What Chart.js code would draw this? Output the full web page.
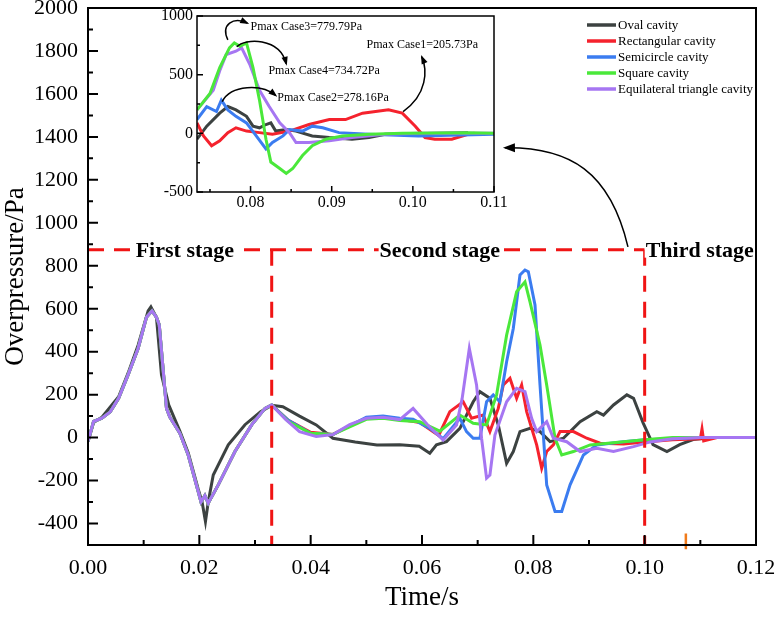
<!DOCTYPE html>
<html><head><meta charset="utf-8">
<script src="https://cdn.jsdelivr.net/npm/chart.js@4.4.1/dist/chart.umd.min.js"></script>
<style>
html,body{margin:0;padding:0;background:#fff;}
#wrap{position:relative;width:776px;height:618px;overflow:hidden;}
#main{position:absolute;left:0;top:0;}
#inset{position:absolute;left:150px;top:0;}
</style></head><body>
<div id="wrap"><canvas id="main" width="776" height="618"></canvas><canvas id="inset" width="360" height="215"></canvas></div>
<script>
const SERIF = "'Liberation Serif','Times New Roman',serif";
const COL = {oval:'#3c4241', rect:'#f5222d', semi:'#3b7cf0', square:'#4ae83a', tri:'#a676f2'};
const names = ['Oval cavity','Rectangular cavity','Semicircle cavity','Square cavity','Equilateral triangle cavity'];

// main axis ticks
const mainXTicks = [0, 0.02, 0.04, 0.06, 0.08, 0.10, 0.12];
const mainYTicks = [-400,-200,0,200,400,600,800,1000,1200,1400,1600,1800,2000];
const insetXTicks = [0.08, 0.09, 0.10, 0.11];
const insetXMinor = [0.075, 0.085, 0.095, 0.105];
const insetYTicks = [-500, 0, 500, 1000];
const insetYMinor = [-250, 250, 750];

// first stage: rect/semi/square/triangle curves lie on top of each other
const earlyT = [0,0.001,0.0025,0.004,0.0055,0.0072,0.009,0.0105,0.0115,0.0123,0.0128,0.0141,0.0147,0.0165,0.018,0.0198,0.0203,0.021,0.0216,0.0234,0.0264,0.0294,0.0318,0.033];
const earlyV = [-18,75,90,120,183,292,415,560,590,560,525,136,95,20,-81,-251,-300,-270,-305,-220,-65,59,136,152];

const ovalT = [0,0.001,0.0025,0.0055,0.0072,0.009,0.0108,0.0113,0.0123,0.0132,0.0145,0.0165,0.018,0.0198,0.0205,0.0211,0.0216,0.0225,0.0252,0.0282,0.031,0.033,0.035,0.038,0.041,0.044,0.048,0.0519,0.056,0.0595,0.0614,0.0626,0.0644,0.0668,0.0692,0.0704,0.0722,0.0737,0.0752,0.0764,0.0776,0.0794,0.0812,0.083,0.0854,0.0884,0.0914,0.0926,0.0944,0.0968,0.098,0.0997,0.1015,0.104,0.1063,0.1087,0.112,0.12];
const ovalV = [-18,70,95,190,300,430,590,609,560,292,152,30,-70,-240,-300,-391,-300,-174,-34,60,120,150,144,100,59,-3,-20,-34,-33,-40,-73,-34,-19,43,167,214,183,59,-120,-65,28,43,28,-19,-3,74,121,105,152,199,183,70,-33,-65,-33,-9,0,0];

const rectLateT = [0.036,0.04,0.044,0.047,0.05,0.053,0.056,0.0596,0.063,0.065,0.0674,0.0689,0.071,0.0722,0.0737,0.0746,0.0758,0.077,0.0779,0.0788,0.0806,0.0815,0.0824,0.0836,0.0848,0.0872,0.0896,0.092,0.0962,0.1,0.105,0.11,0.1103,0.1106,0.113,0.12];
const rectLateV = [80,25,15,55,90,95,85,70,10,121,167,90,105,28,136,245,276,183,245,121,-34,-143,-65,-34,28,28,-3,-26,-30,-20,-10,-5,40,-15,0,0];

const semiLateT = [0.036,0.04,0.044,0.047,0.05,0.053,0.056,0.0584,0.0614,0.0638,0.0668,0.068,0.0692,0.0704,0.0716,0.0728,0.074,0.0752,0.0764,0.0776,0.0785,0.0791,0.0803,0.0812,0.0824,0.0839,0.0851,0.0866,0.089,0.0914,0.0962,0.1,0.105,0.11,0.12];
const semiLateV = [80,20,14,55,95,100,90,85,43,-5,90,28,-3,-3,167,199,167,353,508,757,780,772,617,245,-220,-344,-344,-220,-81,-34,-19,-10,-5,0,0];

const squareLateT = [0.036,0.04,0.044,0.047,0.05,0.053,0.056,0.0596,0.0632,0.0668,0.0692,0.0716,0.0734,0.0752,0.077,0.0785,0.0794,0.0812,0.0824,0.0839,0.0851,0.0872,0.0902,0.0962,0.1,0.105,0.12];
const squareLateV = [75,20,15,50,85,90,80,74,30,105,67,59,199,477,679,725,632,431,245,-3,-81,-65,-34,-19,-10,0,0];

const triLateT = [0.0355,0.038,0.041,0.044,0.047,0.05,0.053,0.056,0.0584,0.061,0.0638,0.0662,0.0672,0.0685,0.0698,0.0707,0.0716,0.0722,0.0731,0.0752,0.077,0.0785,0.0797,0.0806,0.0824,0.0836,0.086,0.0884,0.0914,0.0944,0.098,0.101,0.105,0.11,0.12];
const triLateV = [85,28,5,14,60,90,95,84,136,60,-11,59,180,415,245,-3,-189,-174,12,167,229,214,90,28,74,-3,-19,-65,-50,-65,-42,-20,-5,0,0];

// stage guide lines
const stageLevel = 875;
const stageX1 = 0.033, stageX3 = 0.1;
const stageNames = ['First stage','Second stage','Third stage'];
const stageTextX = [0.0174, 0.0632, 0.1099];
const markT = [0.1074, 0.1074], markV = [-446, -520];

// inset data
const insetOvalT = [0.0734,0.0746,0.0762,0.0772,0.0782,0.0795,0.0803,0.0811,0.0819,0.0825,0.0831,0.0844,0.0856,0.0876,0.0897,0.0925,0.0946,0.0966,0.1068];
const insetOvalV = [-50,61,172,228,200,145,61,47,75,89,19,33,19,-22,-36,-50,-36,-8,5];
const insetRectT = [0.0734,0.0742,0.0752,0.0762,0.0772,0.0782,0.0795,0.0811,0.0827,0.0848,0.0872,0.0897,0.0917,0.0938,0.0954,0.097,0.0987,0.1003,0.1015,0.1027,0.1048,0.1068,0.1076];
const insetRectV = [89,-22,-106,-64,6,47,19,6,-8,19,75,117,117,172,186,200,172,61,-36,-50,-50,-8,0];
const insetSemiT = [0.0734,0.0746,0.0758,0.0764,0.0772,0.0782,0.0795,0.0807,0.0819,0.0827,0.084,0.0848,0.0864,0.0876,0.0889,0.0909,0.0946,0.1007,0.11];
const insetSemiV = [117,228,186,283,200,145,89,-22,-133,-78,-22,33,19,61,47,6,-8,-22,-8];
const insetSquareT = [0.0734,0.075,0.0762,0.0774,0.078,0.0787,0.0795,0.0803,0.0811,0.0819,0.0825,0.0836,0.0844,0.0852,0.0864,0.0876,0.0893,0.0913,0.0946,0.0987,0.1068,0.11];
const insetSquareV = [200,339,561,728,770,742,770,561,283,-50,-245,-300,-342,-300,-189,-106,-50,-22,-8,0,5,0];
const insetTriT = [0.0734,0.0754,0.0762,0.077,0.0782,0.0789,0.0799,0.0811,0.0823,0.0836,0.0848,0.0856,0.0872,0.0897,0.0925,0.0966,0.1007,0.11];
const insetTriV = [200,367,533,672,700,728,589,367,228,89,6,-78,-78,-64,-36,-8,0,0];

// inset notes (data coords of text start, arrows as bezier pts)
const noteText = ['Pmax Case3=779.79Pa','Pmax Case4=734.72Pa','Pmax Case2=278.16Pa','Pmax Case1=205.73Pa'];
const noteX = [0.0800, 0.0822, 0.0833, 0.0943];
const noteY = [906, 534, 305, 754];
const noteArrows = [
  [[0.0772,796],[0.0763,930],[0.0779,995],[0.0796,940]],
  [[0.0783,737],[0.0793,813],[0.0836,820],[0.0844,593]],
  [[0.0765,271],[0.0776,415],[0.0814,423],[0.0831,322]],
  [[0.0988,186],[0.1018,330],[0.1018,542],[0.1011,652]]
];
const bigArrow = [[0.0970,888],[0.0938,1237],[0.0866,1353],[0.0749,1349]];

function series(label, ts, vs, color, order){
  return {label, data: ts.map((t,i)=>({x:t,y:vs[i]})), borderColor:color, backgroundColor:color,
    borderWidth:3, pointRadius:0, tension:0, fill:false, order};
}
function guide(ts, vs){
  return {label:'', data: ts.map((t,i)=>({x:t,y:vs[i]})), borderColor:'#f01414', borderWidth:3,
    borderDash:[16,10], pointRadius:0, fill:false, order:0};
}
function mids(a){ return a.slice(0,-1).map((v,i)=>(v+a[i+1])/2); }

function curveArrow(ctx, p, head){
  ctx.beginPath(); ctx.moveTo(p[0][0],p[0][1]);
  ctx.bezierCurveTo(p[1][0],p[1][1],p[2][0],p[2][1],p[3][0],p[3][1]); ctx.stroke();
  const [ex,ey]=p[3], [cx,cy]=p[2]; const a=Math.atan2(ey-cy, ex-cx);
  const L=head, W=head*0.45;
  ctx.beginPath(); ctx.moveTo(ex+2*Math.cos(a),ey+2*Math.sin(a));
  ctx.lineTo(ex-L*Math.cos(a)+W*Math.sin(a), ey-L*Math.sin(a)-W*Math.cos(a));
  ctx.lineTo(ex-L*Math.cos(a)-W*Math.sin(a), ey-L*Math.sin(a)+W*Math.cos(a));
  ctx.closePath(); ctx.fill();
}

const frameTicks = {
  id:'frameTicks',
  beforeDraw(chart, args, o){
    if(!o.fill) return;
    const {ctx, chartArea:a} = chart;
    ctx.save(); ctx.fillStyle='#fff'; ctx.fillRect(a.left,a.top,a.right-a.left,a.bottom-a.top); ctx.restore();
  },
  afterDraw(chart, args, o){
    const {ctx, chartArea:a, scales:{x,y}} = chart;
    ctx.save(); ctx.strokeStyle='#000'; ctx.lineWidth=o.lw;
    ctx.strokeRect(a.left,a.top,a.right-a.left,a.bottom-a.top);
    ctx.beginPath();
    const tx=(v,len)=>{const p=x.getPixelForValue(v); ctx.moveTo(p,a.bottom); ctx.lineTo(p,a.bottom-len);};
    const ty=(v,len)=>{const p=y.getPixelForValue(v); ctx.moveTo(a.left,p); ctx.lineTo(a.left+len,p);};
    o.xMajor.forEach(v=>tx(v,o.major)); o.xMinor.forEach(v=>tx(v,o.minor));
    o.yMajor.forEach(v=>ty(v,o.major)); o.yMinor.forEach(v=>ty(v,o.minor));
    ctx.stroke(); ctx.restore();
  }
};

const mainNotes = {
  id:'mainNotes',
  afterDatasetsDraw(chart){
    const {ctx, scales:{x,y}} = chart;
    ctx.save();
    // stage labels
    ctx.font = 'bold 22px '+SERIF; ctx.textAlign='center'; ctx.textBaseline='alphabetic';
    const py = y.getPixelForValue(stageLevel);
    stageNames.forEach((s,i)=>{
      const px = x.getPixelForValue(stageTextX[i]); const w = ctx.measureText(s).width;
      ctx.fillStyle='#fff'; ctx.fillRect(px-w/2-1, py-8, w+2, 16);
      ctx.fillStyle='#000'; ctx.fillText(s, px, py+7);
    });
    // arrow to inset
    ctx.strokeStyle='#000'; ctx.fillStyle='#000'; ctx.lineWidth=1.5;
    curveArrow(ctx, bigArrow.map(p=>[x.getPixelForValue(p[0]), y.getPixelForValue(p[1])]), 10);
    // legend
    const rows=[25,41,57,73,89], cols=[COL.oval,COL.rect,COL.semi,COL.square,COL.tri];
    ctx.font='13px '+SERIF; ctx.textAlign='left'; ctx.textBaseline='middle';
    names.forEach((n,i)=>{
      ctx.strokeStyle=cols[i]; ctx.lineWidth=3.5;
      ctx.beginPath(); ctx.moveTo(587,rows[i]); ctx.lineTo(616,rows[i]); ctx.stroke();
      ctx.fillStyle='#000'; ctx.fillText(n, 618, rows[i]+1);
    });
    ctx.restore();
  }
};

const insetNotes = {
  id:'insetNotes',
  afterDatasetsDraw(chart){
    const {ctx, scales:{x,y}} = chart;
    ctx.save();
    ctx.strokeStyle='#000'; ctx.fillStyle='#000'; ctx.lineWidth=1.5;
    noteArrows.forEach(p=>curveArrow(ctx, p.map(q=>[x.getPixelForValue(q[0]), y.getPixelForValue(q[1])]), 7));
    ctx.font='12px '+SERIF; ctx.textAlign='left'; ctx.textBaseline='middle';
    noteText.forEach((s,i)=>ctx.fillText(s, x.getPixelForValue(noteX[i]), y.getPixelForValue(noteY[i])));
    ctx.restore();
  }
};

const tickFont = size => ({family:SERIF, size});

new Chart(document.getElementById('main'), {
  type:'line',
  data:{datasets:[
    series(names[0], ovalT, ovalV, COL.oval, 5),
    series(names[1], earlyT.concat(rectLateT), earlyV.concat(rectLateV), COL.rect, 4),
    series(names[2], earlyT.concat(semiLateT), earlyV.concat(semiLateV), COL.semi, 3),
    series(names[3], earlyT.concat(squareLateT), earlyV.concat(squareLateV), COL.square, 2),
    series(names[4], earlyT.concat(triLateT), earlyV.concat(triLateV), COL.tri, 1),
    guide([0, stageX3], [stageLevel, stageLevel]),
    guide([stageX1, stageX1], [stageLevel, -500]),
    guide([stageX3, stageX3], [stageLevel, -500]),
    {label:'', data: markT.map((t,i)=>({x:t,y:markV[i]})), borderColor:'#f07a1a', borderWidth:2.5, pointRadius:0, clip:false, order:0}
  ]},
  options:{
    responsive:false, animation:false, devicePixelRatio:1, events:[],
    layout:{padding:{top:8,right:20,left:0,bottom:0}},
    plugins:{legend:{display:false}, tooltip:{enabled:false},
      frameTicks:{lw:2, major:10, minor:5, xMajor:mainXTicks, xMinor:mids(mainXTicks), yMajor:mainYTicks, yMinor:mids(mainYTicks)}},
    scales:{
      x:{type:'linear', min:0, max:0.12,
        afterBuildTicks:s=>{s.ticks = mainXTicks.map(v=>({value:v}));},
        afterFit:s=>{s.height=73; s.paddingLeft=0; s.paddingRight=0;},
        grid:{display:false, drawTicks:false}, border:{display:false},
        ticks:{color:'#000', font:tickFont(22), padding:10, maxRotation:0, autoSkip:false, callback:v=>Number(v).toFixed(2)},
        title:{display:true, text:'Time/s', color:'#000', font:{family:SERIF, size:27, lineHeight:1.2}, padding:{top:0,bottom:4}}},
      y:{type:'linear', min:-500, max:2000,
        afterBuildTicks:s=>{s.ticks = mainYTicks.map(v=>({value:v}));},
        afterFit:s=>{s.width=88; s.paddingTop=0; s.paddingBottom=0;},
        grid:{display:false, drawTicks:false}, border:{display:false},
        ticks:{color:'#000', font:tickFont(22), padding:10, autoSkip:false, callback:v=>String(v)},
        title:{display:true, text:'Overpressure/Pa', color:'#000', font:{family:SERIF, size:27, lineHeight:1.0}, padding:{top:2,bottom:0}}}
    }
  },
  plugins:[frameTicks, mainNotes]
});

new Chart(document.getElementById('inset'), {
  type:'line',
  data:{datasets:[
    series(names[0], insetOvalT, insetOvalV, COL.oval, 5),
    series(names[1], insetRectT, insetRectV, COL.rect, 4),
    series(names[2], insetSemiT, insetSemiV, COL.semi, 3),
    series(names[3], insetSquareT, insetSquareV, COL.square, 1),
    series(names[4], insetTriT, insetTriV, COL.tri, 2)
  ]},
  options:{
    responsive:false, animation:false, devicePixelRatio:1, events:[],
    layout:{padding:{top:16,right:16,left:0,bottom:0}},
    plugins:{legend:{display:false}, tooltip:{enabled:false},
      frameTicks:{fill:true, lw:1.5, major:6, minor:3, xMajor:insetXTicks, xMinor:insetXMinor, yMajor:insetYTicks, yMinor:insetYMinor}},
    scales:{
      x:{type:'linear', min:0.0734, max:0.11,
        afterBuildTicks:s=>{s.ticks = insetXTicks.map(v=>({value:v}));},
        afterFit:s=>{s.height=23; s.paddingLeft=0; s.paddingRight=0;},
        grid:{display:false, drawTicks:false}, border:{display:false},
        ticks:{color:'#000', font:tickFont(16), padding:1, maxRotation:0, autoSkip:false, callback:v=>Number(v).toFixed(2)}},
      y:{type:'linear', min:-500, max:1000,
        afterBuildTicks:s=>{s.ticks = insetYTicks.map(v=>({value:v}));},
        afterFit:s=>{s.width=47; s.paddingTop=0; s.paddingBottom=0;},
        grid:{display:false, drawTicks:false}, border:{display:false},
        ticks:{color:'#000', font:tickFont(16), padding:4, autoSkip:false, callback:v=>String(v)}}
    }
  },
  plugins:[frameTicks, insetNotes]
});
</script></body></html>
